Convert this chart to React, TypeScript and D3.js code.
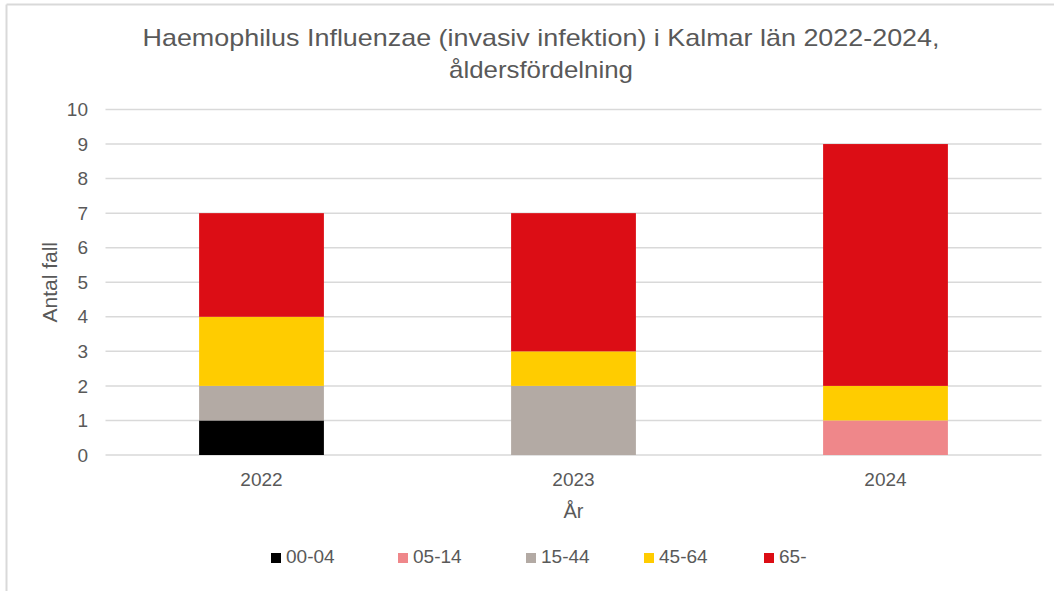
import React from "react";
import * as d3 from "d3";

const years = ["2022", "2023", "2024"];
const ageGroups = ["00-04", "05-14", "15-44", "45-64", "65-"];
const v0004 = [1, 0, 0];
const v0514 = [0, 0, 1];
const v1544 = [1, 2, 0];
const v4564 = [2, 1, 1];
const v65 = [3, 4, 7];
const yTicks = [0, 1, 2, 3, 4, 5, 6, 7, 8, 9, 10];
const colors = ["#000000", "#EF878A", "#B3AAA4", "#FFCC00", "#DC0D15"];
const titleLines = ["Haemophilus Influenzae (invasiv infektion) i Kalmar län 2022-2024,", "åldersfördelning"];

const W = 1054, H = 591;
const plotL = 105.5, plotR = 1041.5, plotT = 109.5, plotB = 455;
const legendX = [271, 398, 526, 644, 764];
const titleWidths = [797, 184];
const textColor = "#595959";
const font = "'Liberation Sans', Arial, sans-serif";

export default function App() {
  const rows = years.map((y, i) => ({
    year: y,
    "00-04": v0004[i],
    "05-14": v0514[i],
    "15-44": v1544[i],
    "45-64": v4564[i],
    "65-": v65[i],
  }));
  const stack = d3.stack<any>().keys(ageGroups)(rows);
  const x = d3.scaleBand().domain(years).range([plotL, plotR]).paddingInner(0.6).paddingOuter(0.3);
  const y = d3.scaleLinear().domain([0, 10]).range([plotB, plotT]);
  const color = d3.scaleOrdinal<string>().domain(ageGroups).range(colors);

  return (
    <svg width={W} height={H} style={{ position: "absolute", left: 0, top: 0, fontFamily: font }}>
      <rect x={0} y={0} width={W} height={H} fill="#fff" />
      <line x1={6.5} y1={4.5} x2={W} y2={4.5} stroke="#d9d9d9" strokeWidth={2} />
      <line x1={6.5} y1={4.5} x2={6.5} y2={H} stroke="#d9d9d9" strokeWidth={2} />
      {titleLines.map((t, i) => (
        <text
          key={i}
          x={541 - titleWidths[i] / 2}
          y={46 + i * 32}
          fontSize={24}
          fill={textColor}
          textLength={titleWidths[i]}
          lengthAdjust="spacingAndGlyphs"
        >
          {t}
        </text>
      ))}
      {yTicks.map((t) => (
        <g key={t}>
          <line x1={plotL} x2={plotR} y1={y(t)} y2={y(t)} stroke="#d9d9d9" strokeWidth={1.5} />
          <text x={88} y={y(t)} dy="0.35em" textAnchor="end" fontSize={19} fill={textColor}>
            {t}
          </text>
        </g>
      ))}
      {stack.map((s) => (
        <g key={s.key} fill={color(s.key)}>
          {s.map((d, i) =>
            d[1] - d[0] > 0 ? (
              <rect key={i} x={x(years[i])} width={x.bandwidth()} y={y(d[1])} height={y(d[0]) - y(d[1])} />
            ) : null
          )}
        </g>
      ))}
      {years.map((yr) => (
        <text key={yr} x={(x(yr) as number) + x.bandwidth() / 2} y={486} textAnchor="middle" fontSize={19} fill={textColor}>
          {yr}
        </text>
      ))}
      <text x={573.5} y={518} textAnchor="middle" fontSize={20} fill={textColor}>År</text>
      <text transform={`translate(57,${(plotT + plotB) / 2}) rotate(-90)`} textAnchor="middle" fontSize={21} fill={textColor}>
        Antal fall
      </text>
      {ageGroups.map((g, i) => (
        <g key={g}>
          <rect x={legendX[i]} y={553} width={10} height={10} fill={color(g)} />
          <text x={legendX[i] + 15} y={563} fontSize={19} fill={textColor}>
            {g}
          </text>
        </g>
      ))}
    </svg>
  );
}
